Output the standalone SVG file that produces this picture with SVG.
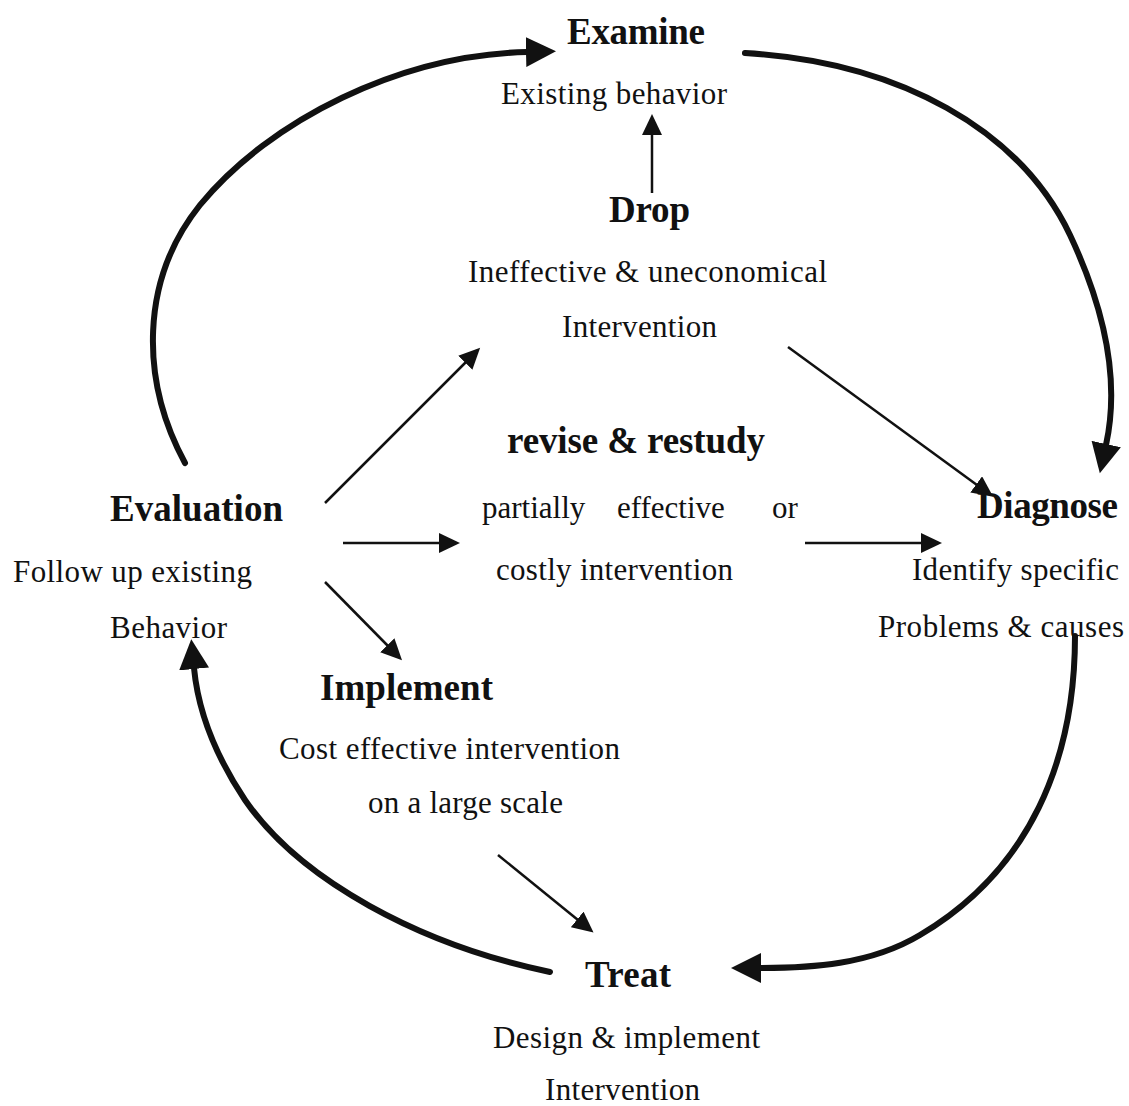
<svg xmlns="http://www.w3.org/2000/svg" width="1129" height="1106" viewBox="0 0 1129 1106">
<defs>
<style>
text{font-family:"Liberation Serif","Times New Roman",serif;fill:#111}
.t{font-weight:bold;font-size:37px}
.s{font-size:31px}
.big{fill:none;stroke:#111;stroke-width:6;stroke-linecap:round}
.thin{fill:none;stroke:#111;stroke-width:2.5}
</style>
<marker id="ah" markerUnits="userSpaceOnUse" markerWidth="32" markerHeight="32" refX="1" refY="15" orient="auto" viewBox="0 0 32 32">
<path d="M0,0 L30,15 L0,30 z" fill="#111"/>
</marker>
<marker id="as" markerUnits="userSpaceOnUse" markerWidth="22" markerHeight="20" refX="1" refY="10" orient="auto" viewBox="0 0 22 20">
<path d="M0,0 L21,10 L0,20 z" fill="#111"/>
</marker>
</defs>
<rect width="1129" height="1106" fill="#fff"/>
<g id="connectors">
<path class="big" marker-end="url(#ah)" d="M185,463 C140,380 140,280 200,205 C270,120 400,55 527,52"/>
<path class="big" marker-end="url(#ah)" d="M745,53 C900,62 1020,130 1070,235 C1110,320 1118,390 1106,445"/>
<path class="big" marker-end="url(#ah)" d="M1075,636 C1075,760 1030,870 920,935 C870,965 810,968 760,968"/>
<path class="big" marker-end="url(#ah)" d="M550,972 C420,945 300,880 245,800 C215,755 198,710 194,668"/>
<path class="thin" marker-end="url(#as)" d="M652,193 L652,134"/>
<path class="thin" marker-end="url(#as)" d="M325,503 L466,362"/>
<path class="thin" marker-end="url(#as)" d="M343,543 L440,543"/>
<path class="thin" marker-end="url(#as)" d="M805,543 L922,543"/>
<path class="thin" marker-end="url(#as)" d="M325,582 L388,646"/>
<path class="thin" marker-end="url(#as)" d="M788,347 L977,485"/>
<path class="thin" marker-end="url(#as)" d="M498,855 L578,920"/>
</g>
<g id="examine">
<text class="t" x="567" y="44" textLength="138">Examine</text>
<text class="s" x="501" y="104" textLength="226">Existing behavior</text>
</g>
<g id="drop">
<text class="t" x="609" y="222" textLength="81">Drop</text>
<text class="s" x="468" y="282" textLength="359">Ineffective &amp; uneconomical</text>
<text class="s" x="562" y="337" textLength="155">Intervention</text>
</g>
<g id="revise">
<text class="t" x="507" y="453" textLength="258">revise &amp; restudy</text>
<text class="s" y="518"><tspan x="482">partially</tspan><tspan x="617">effective</tspan><tspan x="772">or</tspan></text>
<text class="s" x="496" y="580" textLength="237">costly intervention</text>
</g>
<g id="evaluation">
<text class="t" x="110" y="521" textLength="173">Evaluation</text>
<text class="s" x="13" y="582" textLength="239">Follow up existing</text>
<text class="s" x="110" y="638" textLength="117">Behavior</text>
</g>
<g id="diagnose">
<text class="t" x="977" y="518" textLength="141">Diagnose</text>
<text class="s" x="912" y="580" textLength="207">Identify specific</text>
<text class="s" x="878" y="637" textLength="246">Problems &amp; causes</text>
</g>
<g id="implement">
<text class="t" x="320" y="700" textLength="173">Implement</text>
<text class="s" x="279" y="759" textLength="341">Cost effective intervention</text>
<text class="s" x="368" y="813" textLength="195">on a large scale</text>
</g>
<g id="treat">
<text class="t" x="585" y="987" textLength="86">Treat</text>
<text class="s" x="493" y="1048" textLength="267">Design &amp; implement</text>
<text class="s" x="545" y="1100" textLength="155">Intervention</text>
</g>
</svg>
